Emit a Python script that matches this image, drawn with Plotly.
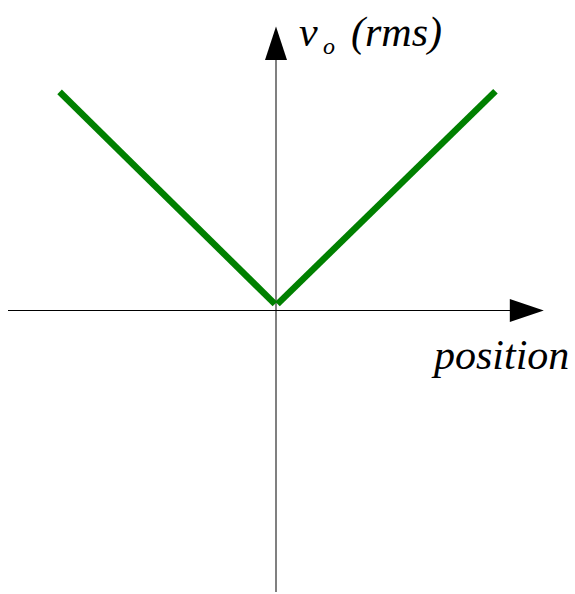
import plotly.graph_objects as go

# V-shaped rms output against core position (two straight arms)
pos_left = [-1.002, -0.005]
vo_left = [1.012, 0.030]
pos_right = [0.007, 1.016]
vo_right = [0.030, 1.015]

axis_labels = {"x": "position", "y_main": "v", "y_sub": "o", "y_tail": "(rms)"}

W, H = 575, 594
ORIGIN_PX = (276.0, 310.5)   # where the axes cross, in page pixels
SCALE = 216.0                # pixels per unit on both axes
PLOT_L, PLOT_R, PLOT_T, PLOT_B = 8, 520, 60, 592


def px_x(px):
    return (px - ORIGIN_PX[0]) / SCALE


def px_y(py):
    return (ORIGIN_PX[1] - py) / SCALE


def paper_x(px):
    return (px - PLOT_L) / (PLOT_R - PLOT_L)


def paper_y(py):
    return (PLOT_B - py) / (PLOT_B - PLOT_T)


GREEN = "#008000"
FONT = "Liberation Serif"

fig = go.Figure()
for xs, ys in ((pos_left, vo_left), (pos_right, vo_right)):
    fig.add_trace(go.Scatter(
        x=xs, y=ys, mode="lines",
        line=dict(color=GREEN, width=6.5),
        hoverinfo="skip", showlegend=False,
    ))

# arrowheads at the ends of both axes, sized in pixels from the axis crossing
ox, oy = paper_x(ORIGIN_PX[0]), paper_y(ORIGIN_PX[1])
for path in ("M -11,250.5 L 0,284 L 11,250.5 Z",
             "M 233.8,11.5 L 267.8,0 L 233.8,-11.5 Z"):
    fig.add_shape(type="path", xref="paper", yref="paper",
                  xsizemode="pixel", ysizemode="pixel", xanchor=ox, yanchor=oy,
                  path=path, fillcolor="black", line=dict(width=0),
                  layer="above")

MAIN = 42
SUB = 24


def label(text, left_px, baseline_px, size):
    fig.add_annotation(
        x=paper_x(left_px), y=paper_y(baseline_px - 0.3 * size),
        xref="paper", yref="paper", xanchor="left", yanchor="middle",
        text=f"<i>{text}</i>", showarrow=False,
        font=dict(family=FONT, size=size, color="black"),
    )


label(axis_labels["x"], 429, 368, MAIN)
label(axis_labels["y_main"], 297, 45, MAIN)
label(axis_labels["y_sub"], 321, 53, SUB)
label(axis_labels["y_tail"], 349, 45, MAIN)

axis_common = dict(showgrid=False, showticklabels=False, ticks="",
                   showline=False, zeroline=True, fixedrange=True)
fig.update_xaxes(range=[px_x(PLOT_L), px_x(PLOT_R)],
                 zerolinecolor="#808080", zerolinewidth=2, **axis_common)
fig.update_yaxes(range=[px_y(PLOT_B), px_y(PLOT_T)],
                 zerolinecolor="black", zerolinewidth=1, **axis_common)

fig.update_layout(
    width=W, height=H,
    margin=dict(l=PLOT_L, r=W - PLOT_R, t=PLOT_T, b=H - PLOT_B, pad=0),
    paper_bgcolor="white", plot_bgcolor="white",
    showlegend=False,
)

fig.write_html("out.html", config={"displayModeBar": False})
